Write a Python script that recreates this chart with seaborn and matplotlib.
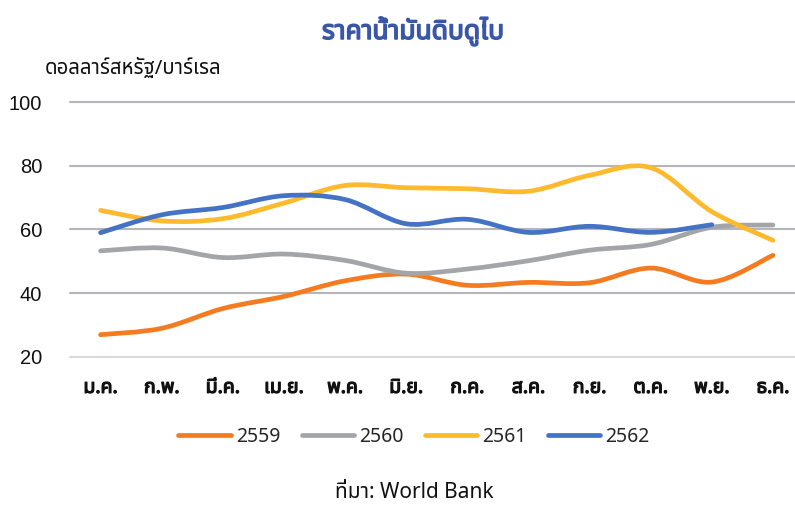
import numpy as np
import pandas as pd
import matplotlib
matplotlib.use("Agg")
import matplotlib.pyplot as plt
import seaborn as sns
from matplotlib import font_manager as fm
from matplotlib.ft2font import FT2Font
from matplotlib.path import Path
from matplotlib.patches import PathPatch
from matplotlib.lines import Line2D
import matplotlib.patheffects as pe

# ---------------- data ----------------
months = ["ม.ค.", "ก.พ.", "มี.ค.", "เม.ย.", "พ.ค.", "มิ.ย.",
          "ก.ค.", "ส.ค.", "ก.ย.", "ต.ค.", "พ.ย.", "ธ.ค."]
y2559 = [27.0, 29.0, 35.2, 39.0, 43.9, 46.0, 42.5, 43.4, 43.3, 47.9, 43.5, 51.9]
y2560 = [53.3, 54.2, 51.2, 52.3, 50.3, 46.3, 47.6, 50.2, 53.5, 55.3, 60.7, 61.4]
y2561 = [66.0, 62.7, 63.4, 68.3, 73.8, 73.1, 72.8, 72.0, 77.0, 79.4, 65.6, 56.6]
y2562 = [59.0, 64.6, 66.9, 70.6, 69.4, 61.8, 63.2, 59.1, 61.0, 59.1, 61.5]
series_names = ["2559", "2560", "2561", "2562"]
colors = ["#F47B20", "#A3A5A8", "#FDBA2C", "#4472C4"]
yticks = [20, 40, 60, 80, 100]
title = "ราคาน้ำมันดิบดูไบ"
unit_label = "ดอลลาร์สหรัฐ/บาร์เรล"
source = "ที่มา: World Bank"

# ---------------- font with Thai glyphs ----------------
def find_thai_fonts():
    found = {}
    for f in fm.fontManager.ttflist:
        try:
            cm = FT2Font(f.fname).get_charmap()
        except Exception:
            continue
        if 0x0E23 in cm and 0x0E49 in cm and 0x0E33 in cm:
            w = f.weight if isinstance(f.weight, int) else (700 if "bold" in str(f.weight).lower() else 400)
            found.setdefault(f.name, set()).add(w)
    return found

pref = ["Noto Sans Thai", "Noto Sans Thai UI", "Noto Sans Thai Looped", "Sarabun",
        "Leelawadee UI", "Tahoma", "Loma", "Garuda", "Kinnari", "Norasi",
        "Waree", "Umpush", "Laksaman", "Noto Serif Thai"]
found = find_thai_fonts()
thai = None
for p in pref:
    if p in found:
        thai = p
        break
if thai is None and found:
    thai = sorted(found)[0]
has_bold = thai is not None and any(w >= 600 for w in found.get(thai, []))

fam = ([thai] if thai else []) + ["DejaVu Sans"]

sns.set_theme(style="white")
plt.rcParams["font.family"] = fam


def bold_kw(color, strength=0.9):
    if has_bold:
        return {"fontweight": "bold"}
    return {"path_effects": [pe.withStroke(linewidth=strength, foreground=color)]}

# ---------------- figure ----------------
W, H = 795, 507
fig = plt.figure(figsize=(W / 100, H / 100), dpi=100)
ax_left, ax_right = 70, 803.5
ax_top, ax_bot = 102, 357
ax = fig.add_axes([ax_left / W, 1 - ax_bot / H, (ax_right - ax_left) / W, (ax_bot - ax_top) / H])

rows = []
for name, vals in zip(series_names, [y2559, y2560, y2561, y2562]):
    for i, v in enumerate(vals):
        rows.append({"month": i, "value": v, "year": name})
df = pd.DataFrame(rows)

sns.lineplot(data=df, x="month", y="value", hue="year", palette=colors,
             hue_order=series_names, ax=ax, legend=False, sort=False)

ax.set_xlim(-0.5, 11.5)
ax.set_ylim(20, 100)

# smoothed Bezier rendering of each seaborn line (Excel-like smooth line)
def smooth_path(xy, t=1 / 6):
    n = len(xy)
    verts = [tuple(xy[0])]
    codes = [Path.MOVETO]
    for i in range(n - 1):
        p0 = xy[i - 1] if i > 0 else xy[i]
        p1 = xy[i]
        p2 = xy[i + 1]
        p3 = xy[i + 2] if i + 2 < n else xy[i + 1]
        c1 = p1 + (p2 - p0) * t
        c2 = p2 - (p3 - p1) * t
        verts += [tuple(c1), tuple(c2), tuple(p2)]
        codes += [Path.CURVE4] * 3
    return Path(verts, codes)

for line, col in zip(list(ax.lines), colors):
    xy = np.asarray(line.get_xydata(), dtype=float)
    line.set_visible(False)
    patch = PathPatch(smooth_path(xy), facecolor="none", edgecolor=col,
                      linewidth=3.4, capstyle="round", joinstyle="round", zorder=3)
    ax.add_patch(patch)

# grid
for yv in yticks:
    ax.axhline(yv, color="#D9D9D9" if yv == 20 else "#B4B6B9", lw=1.5, zorder=1, clip_on=False)
for s in ax.spines.values():
    s.set_visible(False)
ax.set_yticks(yticks)
ax.set_yticklabels([str(v) for v in yticks], fontsize=14.5, color="#111111",
                   family=["Liberation Sans", "DejaVu Sans"])
ax.set_xticks(range(12))
ax.set_xticklabels(months, fontsize=14, color="#111111", **bold_kw("#111111"))
ax.tick_params(axis="y", length=0, pad=20)
ax.tick_params(axis="x", length=0, pad=15)
ax.set_xlabel("")
ax.set_ylabel("")

# texts
fig.text(413 / W, 1 - 31 / H, title, ha="center", va="center", fontsize=19,
         color="#3A57A7", **bold_kw("#3A57A7", 1.1))
fig.text(45 / W, 1 - 68 / H, unit_label, ha="left", va="center", fontsize=14.7, color="#111111")
fig.text(414 / W, 1 - 493 / H, source, ha="center", va="center", fontsize=15, color="#111111")

handles = [Line2D([0], [0], color=c, lw=3.4, solid_capstyle="round") for c in colors]
fig.legend(handles, series_names, loc="center", bbox_to_anchor=(414 / W, 1 - 437 / H),
           ncol=4, frameon=False, fontsize=14, handlelength=2.7, handletextpad=0.25,
           columnspacing=1.1)

fig.savefig("out.png", dpi=100)
